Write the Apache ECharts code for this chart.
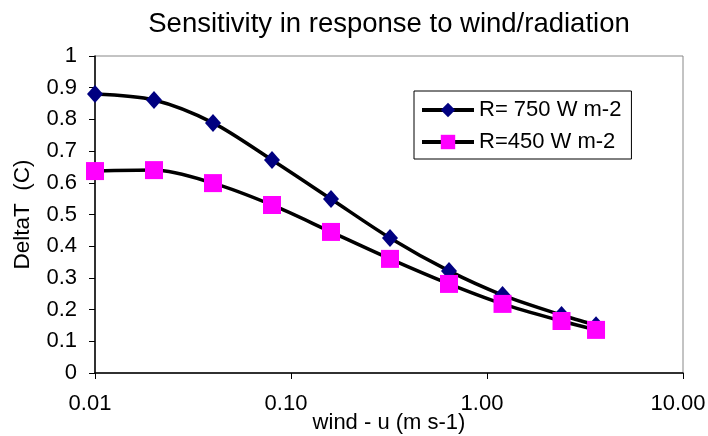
<!DOCTYPE html>
<html>
<head>
<meta charset="utf-8">
<script src="https://cdn.jsdelivr.net/npm/echarts@6/dist/echarts.min.js"></script>
<style>html,body{margin:0;padding:0;background:#fff}#c{width:708px;height:436px}</style>
</head>
<body>
<div id="c"></div>
<script>
var wind = [0.01, 0.02, 0.04, 0.08, 0.16, 0.32, 0.64, 1.2, 2.4, 3.6];
var r750 = [0.88, 0.861, 0.789, 0.672, 0.549, 0.426, 0.322, 0.246, 0.183, 0.151];
var r450 = [0.637, 0.640, 0.599, 0.530, 0.445, 0.360, 0.281, 0.218, 0.164, 0.136];
var seriesNames = ['R= 750 W m-2', 'R=450 W m-2'];
var titleText = 'Sensitivity in response to wind/radiation';
var xName = 'wind - u (m s-1)';
var yName = 'DeltaT  (C)';

function pairs(xs, ys) { return xs.map(function (x, i) { return [x, ys[i]]; }); }
var font = 'Liberation Sans, Arial, sans-serif';
var chart = echarts.init(document.getElementById('c'));
chart.setOption({
  animation: false,
  backgroundColor: '#fff',
  title: { text: titleText, left: 384, top: 5, textAlign: 'center',
    textStyle: { fontFamily: font, fontSize: 27.5, fontWeight: 'normal', color: '#000' } },
  grid: { left: 95, right: 25, top: 56, bottom: 63, show: true, borderColor: '#888', borderWidth: 1,
    containLabel: false, outerBoundsMode: 'none' },
  legend: {
    left: 414, top: 91, orient: 'vertical', padding: [8, 10, 6, 6], itemGap: 10,
    itemWidth: 52, itemHeight: 18,
    borderColor: '#000', borderWidth: 1, backgroundColor: '#fff',
    lineStyle: { width: 4, color: '#000' },
    textStyle: { fontFamily: font, fontSize: 22, color: '#000' },
    data: seriesNames
  },
  xAxis: {
    type: 'log', logBase: 10, min: 0.01, max: 10,
    name: xName, nameLocation: 'middle', nameGap: 39, nameMoveOverlap: false,
    nameTextStyle: { fontFamily: font, fontSize: 22, color: '#000' },
    axisLine: { lineStyle: { color: '#000', width: 1.5 } },
    axisTick: { show: true, length: 6, lineStyle: { color: '#000' } },
    minorTick: { show: false },
    splitLine: { show: false },
    axisLabel: { margin: 20, fontFamily: font, fontSize: 22, color: '#000', padding: [0, 10, 0, 0],
      formatter: function (v) { return Number(v).toFixed(2); } }
  },
  yAxis: {
    type: 'value', min: 0, max: 1, interval: 0.1,
    name: yName, nameLocation: 'middle', nameGap: 61, nameMoveOverlap: false,
    nameTextStyle: { fontFamily: font, fontSize: 22.5, color: '#000' },
    axisLine: { show: true, lineStyle: { color: '#000', width: 1.5 } },
    axisTick: { show: true, length: 6, lineStyle: { color: '#000' } },
    splitLine: { show: false },
    axisLabel: { margin: 18, fontFamily: font, fontSize: 22, color: '#000',
      formatter: function (v) { return String(Math.round(v * 10) / 10); } }
  },
  series: [
    { name: seriesNames[0], type: 'line', data: pairs(wind, r750), smooth: 0.3,
      symbol: 'diamond', symbolSize: [16, 18],
      lineStyle: { color: '#000', width: 3.5 },
      itemStyle: { color: '#000080', borderColor: '#000080', borderWidth: 0 }, z: 3 },
    { name: seriesNames[1], type: 'line', data: pairs(wind, r450), smooth: 0.3,
      symbol: 'rect', symbolSize: 18,
      lineStyle: { color: '#000', width: 3.5 },
      itemStyle: { color: '#FF00FF', borderWidth: 0 }, z: 4 }
  ]
});
</script>
</body>
</html>
